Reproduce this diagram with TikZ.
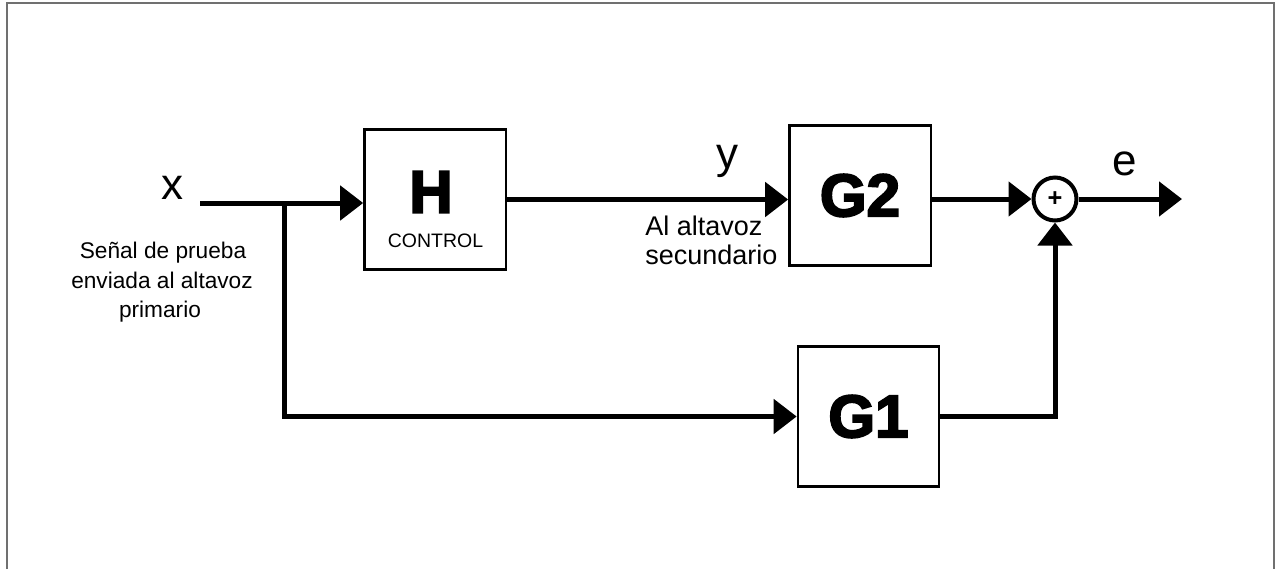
\documentclass[tikz,border=0pt]{standalone}
\usepackage{fontspec}
\setmainfont{Liberation Sans}
\newfontfamily\heavyfont[BoldFeatures={FakeBold=3.5}]{Liberation Sans}
\usetikzlibrary{arrows.meta}
\begin{document}
\begin{tikzpicture}[x=0.75pt,y=-0.75pt,
  conn/.style={line width=3.75pt, -{Triangle[length=17.25pt,width=25.5pt]}},
  block/.style={draw, line width=1.75pt, minimum width=106pt, minimum height=105pt, inner sep=0pt, fill=white},
  bigfont/.style={font=\fontsize{45}{45}\heavyfont\bfseries},
  sig/.style={font=\fontsize{33}{33}\selectfont, inner sep=0pt, anchor=base},
  note/.style={font=\fontsize{20.25}{22}\selectfont, inner sep=0pt, anchor=base},
  smallnote/.style={font=\fontsize{17}{19}\selectfont, inner sep=0pt, anchor=base},
  frame/.style={draw=black!56, line width=1.5pt}
]
\useasboundingbox (0,0) rectangle (1275,569);
\draw[frame] (7,569) -- (7,2.5) -- (1274,2.5) -- (1274,569);

% blocks
\node[block] (H) at (435,199.5) {};
\node[bigfont, inner sep=0pt] (Ht) at (431,192) {H};
\node[font=\fontsize{14.6}{15}\selectfont, inner sep=0pt, anchor=base] (Hc) at (435.5,247) {CONTROL};
\node[block, bigfont] (G2) at (860,195.5) {G2};
\node[block, bigfont] (G1) at (868.5,416.5) {G1};
\node[circle, draw, line width=3pt, minimum size=32.25pt, inner sep=0pt,
      font=\fontsize{19}{19}\selectfont\bfseries] (S) at (1055,199) {+};

% coordinates
\coordinate (xin) at (200,203);
\coordinate (j) at (284,203);
\coordinate (out) at (1182,199);

% connectors
\draw[conn] (xin) -- (xin -| H.west);
\draw[conn] (j) |- (G1.west);
\draw[conn] (H.east) -- (H.east -| G2.west);
\draw[conn] (G2.east |- S.west) -- (S.west);
\draw[conn] (G1.east) -| (S.south);
\draw[conn] (S.east) -- (out);

% labels
\node[sig] (lx) at (172,199) {x};
\node[sig] (ly) at (727,168) {y};
\node[sig] (le) at (1125,175) {e};
\node[note, anchor=base west] (n1) at (645,235) {Al altavoz};
\node[note, anchor=base west] (n2) at (645,264) {secundario};
\node[smallnote] (p1) at (163,258) {Señal de prueba};
\node[smallnote] (p2) at (162,288) {enviada al altavoz};
\node[smallnote] (p3) at (160,317) {primario};
\end{tikzpicture}
\end{document}
